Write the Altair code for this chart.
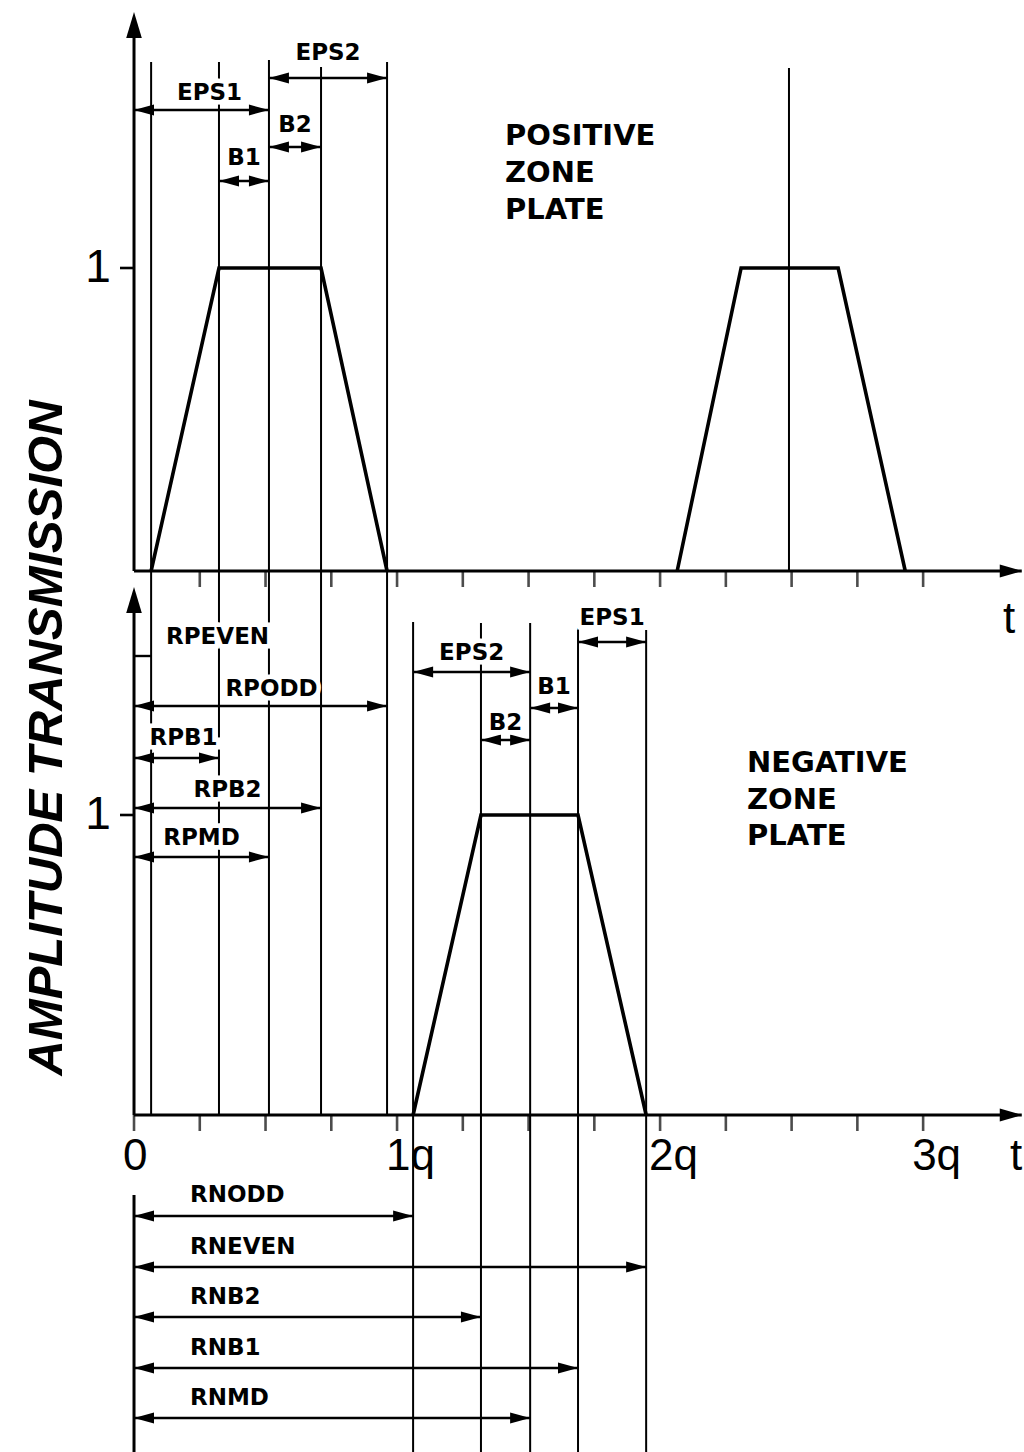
import altair as alt
import pandas as pd

# ---------------- data ----------------
# amplitude transmission profiles (t in units of q, amplitude 0..1)
pos_t = [0.065, 0.323, 0.711, 0.962]
pos_amp = [0, 1, 1, 0]
pos2_t = [2.065, 2.308, 2.677, 2.932]
pos2_amp = [0, 1, 1, 0]
pos2_mid = 2.49

neg_t = [1.061, 1.319, 1.688, 1.947]
neg_amp = [0, 1, 1, 0]

# zone radii of the positive and of the negative plate
rp_names = ["RPEVEN", "RPB1", "RPMD", "RPB2", "RPODD"]
rp_values = [0.065, 0.323, 0.513, 0.711, 0.962]
rn_names = ["RNODD", "RNB2", "RNMD", "RNB1", "RNEVEN"]
rn_values = [1.061, 1.319, 1.506, 1.688, 1.947]

# t axis
tick_values = [0.25, 0.5, 0.75, 1.0, 1.25, 1.5, 1.75, 2.0, 2.25, 2.5, 2.75, 3.0]
tick_label_values = [0, 1, 2, 3]
tick_label_texts = ["0", "1q", "2q", "3q"]
level_values = [1]
level_texts = ["1"]

# ---------------- layout ----------------
W, H = 1024, 1452
X_DOMAIN = [-0.5095, 3.3835]
PX_PER_Q = W / (X_DOMAIN[1] - X_DOMAIN[0])
AXIS_END = 3.375
TOP_BASE, TOP_ONE = 571, 268
BOT_BASE, BOT_ONE = 1115, 815

LABEL_FONT = "DejaVu Sans"
NUM_FONT = "Liberation Sans Narrow, Liberation Sans, sans-serif"
INK = "black"

HEAD_L = "M0,0L2,-0.55L2,0.55Z"
HEAD_R = "M0,0L-2,-0.55L-2,0.55Z"
HEAD_UP = "M0,0L-0.6,2L0.6,2Z"
AXIS_HEAD_R = "M0,0L-2,-0.6L-2,0.6Z"


def panel_scale(base, one):
    unit = base - one
    return alt.Scale(domain=[-(H - base) / unit, base / unit], nice=False, zero=False)


TOP_Y = panel_scale(TOP_BASE, TOP_ONE)
BOT_Y = panel_scale(BOT_BASE, BOT_ONE)
X_SCALE = alt.Scale(domain=X_DOMAIN, nice=False, zero=False)


def xq(field):
    return alt.X(field, scale=X_SCALE, axis=None)


def ypx(field):
    return alt.Y(field, scale=None, axis=None)


RP = dict(zip(rp_names, rp_values))
RN = dict(zip(rn_names, rn_values))

# dimension arrows: label, from, to, arrow y, label y, label shift (px)
spans = pd.DataFrame([
    ("EPS1", 0.0, RP["RPMD"], 110, 93, 8),
    ("EPS2", RP["RPMD"], RP["RPODD"], 78, 53, 0),
    ("B2", RP["RPMD"], RP["RPB2"], 147, 125, 0),
    ("B1", RP["RPB1"], RP["RPMD"], 181, 158, 0),
    ("RPODD", 0.0, RP["RPODD"], 706, 689, 11),
    ("RPB1", 0.0, RP["RPB1"], 758, 738, 7),
    ("RPB2", 0.0, RP["RPB2"], 808, 790, 0),
    ("RPMD", 0.0, RP["RPMD"], 857, 838, 0),
    ("EPS1", RN["RNB1"], RN["RNEVEN"], 642, 618, 0),
    ("EPS2", RN["RNODD"], RN["RNMD"], 672, 653, 0),
    ("B1", RN["RNMD"], RN["RNB1"], 708, 687, 0),
    ("B2", RN["RNB2"], RN["RNMD"], 740, 723, 0),
    ("RPEVEN", 0.0, RP["RPEVEN"], 656, 637, 75),
], columns=["label", "x0", "x1", "ya", "yl", "shift"])
spans["lx"] = (spans.x0 + spans.x1) / 2 + spans["shift"] / PX_PER_Q
headed = spans[spans.label != "RPEVEN"]

radii = pd.DataFrame([
    (n, 0.0, RN[n], ya, yl) for n, ya, yl in [
        ("RNODD", 1216, 1195), ("RNEVEN", 1267, 1247), ("RNB2", 1317, 1297),
        ("RNB1", 1368, 1348), ("RNMD", 1418, 1398)]
], columns=["label", "x0", "x1", "ya", "yl"])
radii["lx"] = radii.x0 + 56 / PX_PER_Q

arrows = pd.concat([spans[["x0", "x1", "ya"]], radii[["x0", "x1", "ya"]]], ignore_index=True)
heads = pd.concat([headed[["x0", "x1", "ya"]], radii[["x0", "x1", "ya"]]], ignore_index=True)

# construction lines through the zone edges
guides = pd.DataFrame({
    "x": rp_values + rn_values + [pos2_mid],
    "top": [62, 62, 60, 67, 62] + [622, 623, 623, 628, 630] + [68],
    "bottom": [BOT_BASE] * 5 + [H] * 5 + [TOP_BASE],
})

yaxes = pd.DataFrame({"x": [0.0, 0.0, 0.0], "top": [30, 606, 1195],
                      "bottom": [TOP_BASE, BOT_BASE, H], "tip": [12, 587, None]})

# ---------------- layers ----------------
guide_rules = alt.Chart(guides).mark_rule(color=INK, strokeWidth=2).encode(
    x=xq("x:Q"), y=ypx("top:Q"), y2="bottom:Q")

yaxis_rules = alt.Chart(yaxes).mark_rule(color=INK, strokeWidth=3).encode(
    x=xq("x:Q"), y=ypx("top:Q"), y2="bottom:Q")
yaxis_heads = alt.Chart(yaxes.dropna()).mark_point(
    shape=HEAD_UP, size=676, filled=True, opacity=1, color=INK).encode(
    x=xq("x:Q"), y=ypx("tip:Q"))

arrow_rules = alt.Chart(arrows).mark_rule(color=INK, strokeWidth=2.4).encode(
    x=xq("x0:Q"), x2="x1:Q", y=ypx("ya:Q"))
left_heads = alt.Chart(heads).mark_point(
    shape=HEAD_L, size=400, filled=True, opacity=1, color=INK).encode(
    x=xq("x0:Q"), y=ypx("ya:Q"))
right_heads = alt.Chart(heads).mark_point(
    shape=HEAD_R, size=400, filled=True, opacity=1, color=INK).encode(
    x=xq("x1:Q"), y=ypx("ya:Q"))


def panel(profile_df, yscale, ticks):
    axis_df = pd.DataFrame({"x0": [0.0], "x1": [AXIS_END], "amp": [0]})
    tick_df = pd.DataFrame({"t": ticks, "amp": [0] * len(ticks)})
    level_df = pd.DataFrame({"x0": [-14 / PX_PER_Q], "x1": [0.0],
                             "amp": level_values, "text": level_texts})
    y = alt.Y("amp:Q", scale=yscale, axis=None)
    profile = alt.Chart(profile_df).mark_line(
        color=INK, strokeWidth=3.6, strokeJoin="miter").encode(
        x=xq("t:Q"), y=y, detail="pulse:N")
    baseline = alt.Chart(axis_df).mark_rule(color=INK, strokeWidth=3).encode(
        x=xq("x0:Q"), x2="x1:Q", y=y)
    axis_head = alt.Chart(axis_df).mark_point(
        shape=AXIS_HEAD_R, size=484, filled=True, opacity=1, color=INK).encode(
        x=xq("x1:Q"), y=y)
    tick_marks = alt.Chart(tick_df).mark_tick(
        orient="vertical", size=16, thickness=2.6, yOffset=8, color=INK).encode(
        x=xq("t:Q"), y=y)
    level_tick = alt.Chart(level_df).mark_rule(color=INK, strokeWidth=2.6).encode(
        x=xq("x0:Q"), x2="x1:Q", y=y)
    level_text = alt.Chart(level_df).mark_text(
        font=NUM_FONT, fontSize=46, align="center", baseline="middle", color=INK).encode(
        x=alt.value(98), y=y, text="text:N")
    return alt.layer(profile, baseline, axis_head, tick_marks, level_tick, level_text)


pos_df = pd.DataFrame({"pulse": ["a"] * 4 + ["b"] * 4,
                       "t": pos_t + pos2_t, "amp": pos_amp + pos2_amp})
neg_df = pd.DataFrame({"pulse": ["a"] * 4, "t": neg_t, "amp": neg_amp})
top_panel = panel(pos_df, TOP_Y, tick_values)
bot_panel = panel(neg_df, BOT_Y, [0.0] + tick_values)


def labels(df, align, mask):
    kw = dict(font=LABEL_FONT, fontSize=23, fontWeight="bold",
              align=align, baseline="middle")
    if mask:
        kw.update(color="white", stroke="white", strokeWidth=9)
    else:
        kw.update(color=INK)
    return alt.Chart(df).mark_text(**kw).encode(
        x=xq("lx:Q"), y=ypx("yl:Q"), text="label:N")


span_masks = labels(spans, "center", True)
span_labels = labels(spans, "center", False)
radius_labels = labels(radii, "left", False)

tick_text_df = pd.DataFrame({"t": tick_label_values, "text": tick_label_texts})
tick_texts = alt.Chart(tick_text_df).mark_text(
    font=NUM_FONT, fontSize=44, align="left", baseline="alphabetic", dx=-11, color=INK).encode(
    x=xq("t:Q"), y=alt.value(1170), text="text:N")

t_df = pd.DataFrame({"px": [1009, 1016], "py": [633, 1170], "text": ["t", "t"]})
t_texts = alt.Chart(t_df).mark_text(
    font=NUM_FONT, fontSize=44, align="center", baseline="alphabetic", color=INK).encode(
    x=alt.X("px:Q", scale=None, axis=None), y=ypx("py:Q"), text="text:N")

names_df = pd.DataFrame({
    "text": ["POSITIVE", "ZONE", "PLATE", "NEGATIVE", "ZONE", "PLATE"],
    "px": [505] * 3 + [747] * 3,
    "py": [136, 173, 210, 763, 800, 836],
})
plate_names = alt.Chart(names_df).mark_text(
    font=LABEL_FONT, fontSize=29, fontWeight="bold", align="left", baseline="middle",
    color=INK).encode(
    x=alt.X("px:Q", scale=None, axis=None), y=ypx("py:Q"), text="text:N")

title = alt.Chart(pd.DataFrame({"a": [0]})).mark_text(
    font="Liberation Sans", fontSize=49, fontWeight="bold", fontStyle="italic",
    angle=270, align="center", baseline="middle", color=INK).encode(
    x=alt.value(47), y=alt.value(738), text=alt.value("AMPLITUDE TRANSMISSION"))

chart = alt.layer(
    guide_rules, yaxis_rules, yaxis_heads, arrow_rules, left_heads, right_heads,
    top_panel, bot_panel,
    span_masks, span_labels, radius_labels,
    tick_texts, t_texts, plate_names, title,
).resolve_scale(y="independent").properties(
    width=W, height=H, padding=0, autosize=alt.AutoSizeParams(type="none"),
    background="white",
).configure_view(stroke=None)

chart.save("out.html", embed_options={"renderer": "svg", "actions": False})
